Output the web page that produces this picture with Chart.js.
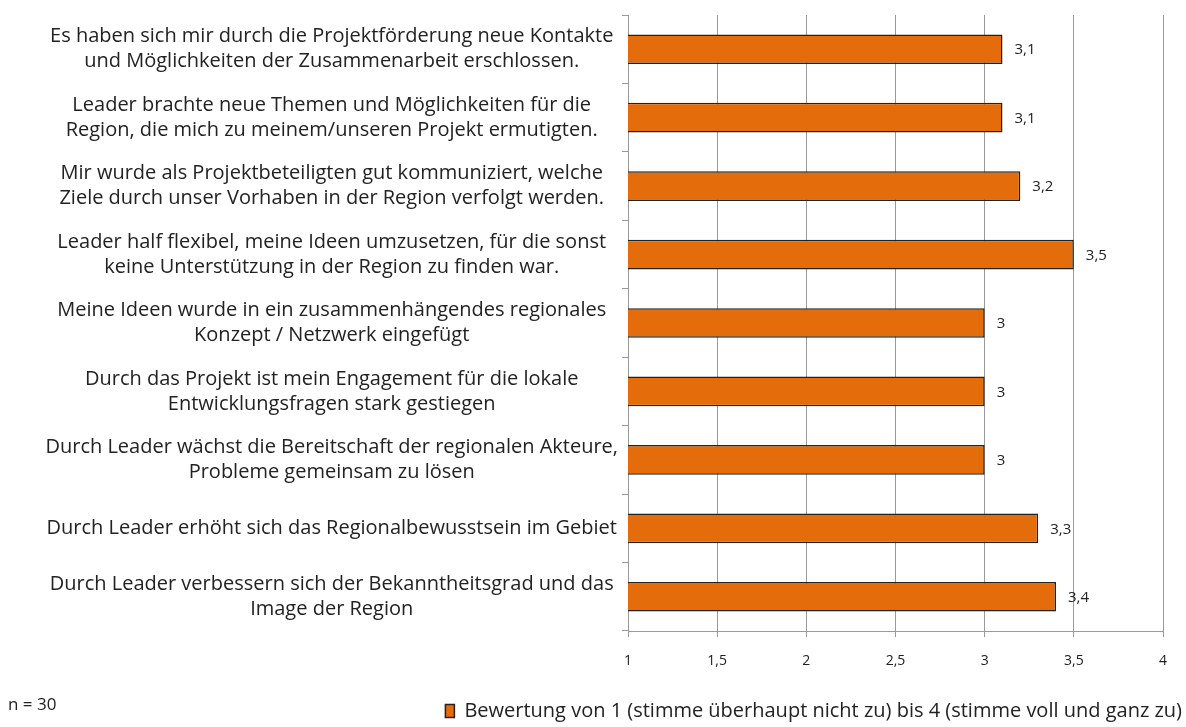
<!DOCTYPE html>
<html>
<head>
<meta charset="utf-8">
<script src="https://cdn.jsdelivr.net/npm/chart.js@4/dist/chart.umd.min.js"></script>
<style>
  html, body { margin: 0; padding: 0; background: #fff; }
  #wrap { width: 1186px; height: 727px; position: relative; }
</style>
</head>
<body>
<div id="wrap"><canvas id="chart"></canvas></div>
<script>
// statements, top to bottom as in the chart
const categories = [
  ['Es haben sich mir durch die Projektförderung neue Kontakte', 'und Möglichkeiten der Zusammenarbeit erschlossen.'],
  ['Leader brachte neue Themen und Möglichkeiten für die', 'Region, die mich zu meinem/unseren Projekt ermutigten.'],
  ['Mir wurde als Projektbeteiligten gut kommuniziert, welche', 'Ziele durch unser Vorhaben in der Region verfolgt werden.'],
  ['Leader half flexibel, meine Ideen umzusetzen, für die sonst', 'keine Unterstützung in der Region zu finden war.'],
  ['Meine Ideen wurde in ein zusammenhängendes regionales', 'Konzept / Netzwerk eingefügt'],
  ['Durch das Projekt ist mein Engagement für die lokale', 'Entwicklungsfragen stark gestiegen'],
  ['Durch Leader wächst die Bereitschaft der regionalen Akteure,', 'Probleme gemeinsam zu lösen'],
  'Durch Leader erhöht sich das Regionalbewusstsein im Gebiet',
  ['Durch Leader verbessern sich der Bekanntheitsgrad und das', 'Image der Region']
];
const ratings = [3.1, 3.1, 3.2, 3.5, 3, 3, 3, 3.3, 3.4];
const xTicks = [1, 1.5, 2, 2.5, 3, 3.5, 4];
const seriesName = 'Bewertung von 1 (stimme überhaupt nicht zu) bis 4 (stimme voll und ganz zu)';
const note = 'n = 30';

const FONT = '"Open Sans", "Liberation Sans", sans-serif';
const fmt = v => String(v).replace('.', ',');

const extras = {
  id: 'extras',
  afterDatasetsDraw(chart) {
    const ctx = chart.ctx;
    const meta = chart.getDatasetMeta(0);
    ctx.save();
    ctx.font = '15px ' + FONT;
    ctx.fillStyle = '#222';
    ctx.textBaseline = 'middle';
    ctx.textAlign = 'left';
    meta.data.forEach((bar, i) => {
      ctx.fillText(fmt(ratings[i]), bar.x + 12, bar.y + 1);
    });
    ctx.restore();
  },
  afterDraw(chart) {
    const ctx = chart.ctx;
    ctx.save();
    ctx.font = '17px ' + FONT;
    ctx.fillStyle = '#222';
    ctx.textBaseline = 'middle';
    ctx.fillText(note, 8, 705);
    ctx.restore();
  }
};

new Chart(document.getElementById('chart'), {
  type: 'bar',
  data: {
    labels: categories,
    datasets: [{
      label: seriesName,
      data: ratings,
      backgroundColor: '#E46C0A',
      borderColor: '#222',
      borderWidth: 1.5,
      borderSkipped: false,
      categoryPercentage: 0.85,
      barPercentage: 0.51
    }]
  },
  options: {
    indexAxis: 'y',
    responsive: true,
    maintainAspectRatio: false,
    animation: false,
    layout: { padding: { left: 20, right: 0, top: 15, bottom: -4 } },
    scales: {
      x: {
        min: 1,
        max: 4,
        afterBuildTicks(scale) { scale.ticks = xTicks.map(v => ({ value: v })); },
        afterFit(scale) { scale.height = 66; scale.paddingRight = 23; },
        ticks: {
          callback: v => fmt(v),
          font: { family: FONT, size: 14 },
          color: '#222',
          padding: 16,
          maxRotation: 0
        },
        grid: { color: '#999', tickLength: 6, lineWidth: 1 },
        border: { color: '#999' }
      },
      y: {
        afterFit(scale) { scale.width = 608; scale.paddingTop = 0; scale.paddingBottom = 0; },
        ticks: {
          crossAlign: 'center',
          font: { family: FONT, size: 20, lineHeight: 1.25 },
          color: '#222',
          padding: 4
        },
        grid: { offset: true, drawOnChartArea: false, color: '#999', tickLength: 6 },
        border: { color: '#999' }
      }
    },
    plugins: {
      legend: {
        position: 'bottom',
        align: 'end',
        labels: {
          font: { family: FONT, size: 20 },
          color: '#222',
          boxWidth: 9,
          boxHeight: 13,
          padding: 4
        }
      },
      tooltip: { enabled: false }
    }
  },
  plugins: [extras]
});
</script>
</body>
</html>
